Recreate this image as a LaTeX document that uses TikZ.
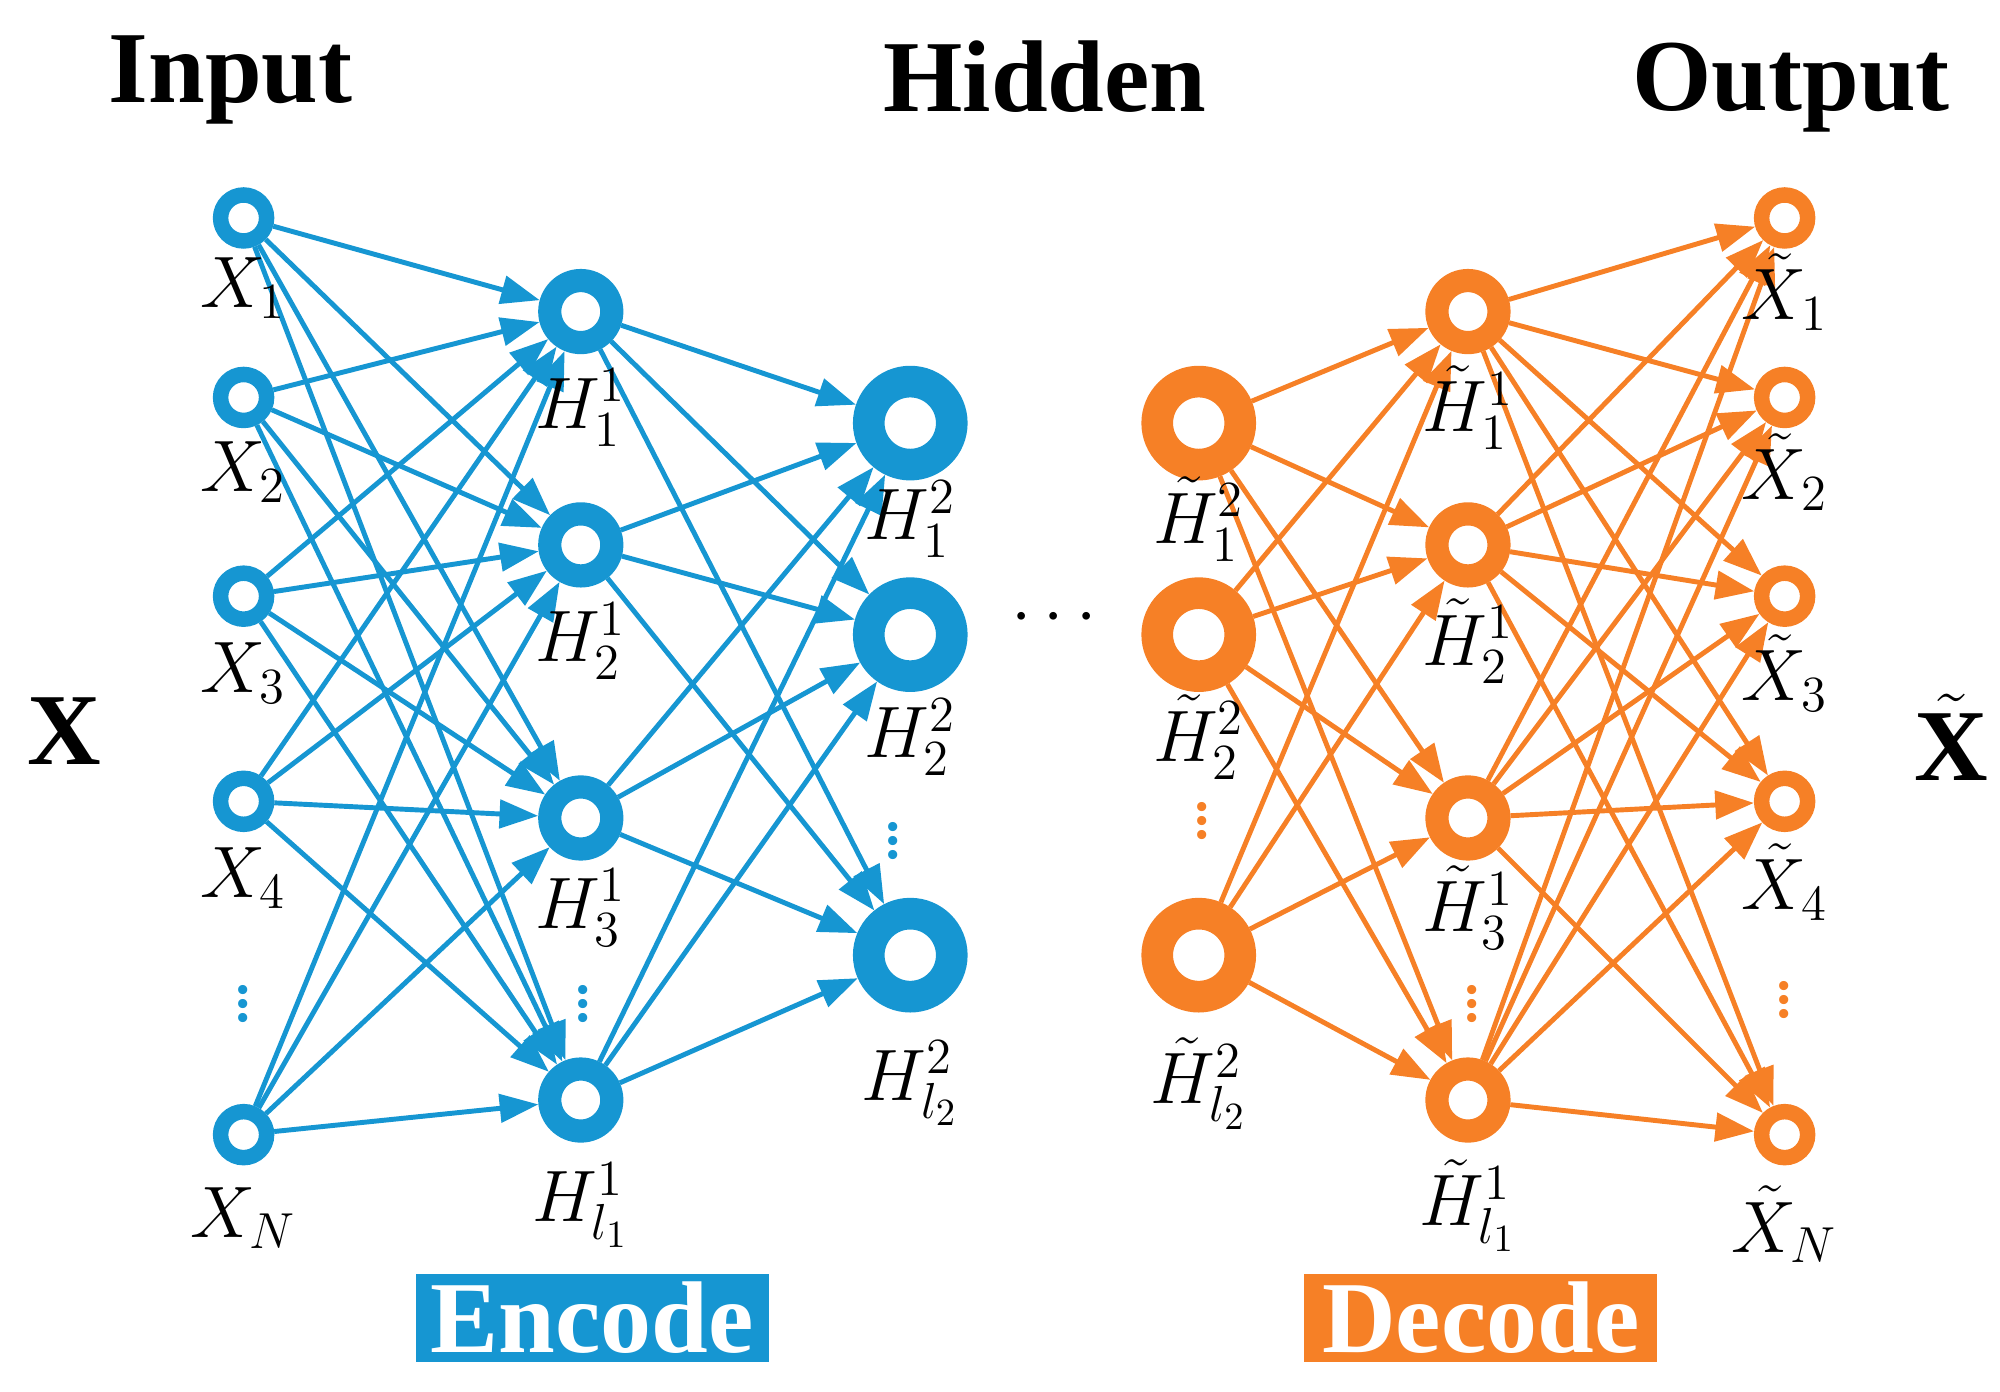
\documentclass[tikz,border=0pt]{standalone}
\usepackage{fontspec}
\setmainfont{Liberation Serif}
\usetikzlibrary{arrows.meta}
\definecolor{bl}{RGB}{22,150,210}
\definecolor{og}{RGB}{246,128,38}
\begin{document}
\begin{tikzpicture}[x=0.01282cm,y=-0.01282cm,
 n1/.style={circle,inner sep=0,minimum size=0.46cm,line width=4.4pt,draw=#1},
 n2/.style={circle,inner sep=0,minimum size=0.62cm,line width=6.6pt,draw=#1},
 n3/.style={circle,inner sep=0,minimum size=0.83cm,line width=9pt,draw=#1},
 e/.style={draw=#1,line width=1.4pt,-{Triangle[length=11pt,width=8pt]}},
 lab/.style={font=\fontsize{22}{24}\selectfont},
 ttl/.style={font=\bfseries\fontsize{29}{31}\selectfont},
 dots/.style={font=\fontsize{22}{24}\selectfont,text=#1}]
\useasboundingbox (0,0) rectangle (1560,1085);
% nodes
\foreach \y [count=\i] in {170,310,465,625,885} {
 \node[n1=bl] (i\i) at (190,\y) {};
 \node[n1=og] (o\i) at (1392,\y) {};}
\foreach \y [count=\i] in {243,425,638,858} {
 \node[n2=bl] (a\i) at (453,\y) {};
 \node[n2=og] (d\i) at (1145,\y) {};}
\foreach \y [count=\i] in {330,495,745} {
 \node[n3=bl] (b\i) at (710,\y) {};
 \node[n3=og] (c\i) at (935,\y) {};}
% edges
\foreach \i in {1,...,5} \foreach \j in {1,...,4} {
 \draw[e=bl] (i\i) -- (a\j);
 \draw[e=og] (d\j) -- (o\i);}
\foreach \i in {1,...,4} \foreach \j in {1,...,3} {
 \draw[e=bl] (a\i) -- (b\j);
 \draw[e=og] (c\j) -- (d\i);}
% labels
\foreach \s/\y in {1/225,2/368,3/525,4/685} \node[lab] (lx\s) at (190,\y) {$X_{\s}$};
\node[lab] (lxn) at (190,950) {$X_{N}$};
\foreach \s/\y in {1/228,2/368,3/525,4/688} \node[lab] (ly\s) at (1392,\y) {$\tilde{X}_{\s}$};
\node[lab] (lyn) at (1392,955) {$\tilde{X}_{N}$};
\foreach \s/\y in {1/318,2/500,3/708} {
 \node[lab] (la\s) at (453,\y) {$H^{1}_{\s}$};
 \node[lab] (ld\s) at (1145,\y) {$\tilde{H}^{1}_{\s}$};}
\node[lab] (la4) at (453,940) {$H^{1}_{l_1}$};
\node[lab] (ld4) at (1145,940) {$\tilde{H}^{1}_{l_1}$};
\foreach \s/\y in {1/405,2/575} {
 \node[lab] (lb\s) at (710,\y) {$H^{2}_{\s}$};
 \node[lab] (lc\s) at (935,\y) {$\tilde{H}^{2}_{\s}$};}
\node[lab] (lb3) at (710,845) {$H^{2}_{l_2}$};
\node[lab] (lc3) at (935,845) {$\tilde{H}^{2}_{l_2}$};
% dots
\node[dots=bl] (v1) at (190,775) {$\vdots$};
\node[dots=bl] (v2) at (455,775) {$\vdots$};
\node[dots=bl] (v3) at (697,648) {$\vdots$};
\node[dots=og] (v4) at (938,632) {$\vdots$};
\node[dots=og] (v5) at (1148,775) {$\vdots$};
\node[dots=og] (v6) at (1392,772) {$\vdots$};
\node[dots=black] (hd) at (822,482) {$\cdots$};
% titles
\node[ttl] (t1) at (180,62) {Input};
\node[ttl] (t2) at (815,60) {Hidden};
\node[ttl] (t3) at (1397,68) {Output};
\node[ttl] (bx) at (50,570) {$\mathbf{X}$};
\node[ttl] (by) at (1522,575) {$\tilde{\mathbf{X}}$};
\node[fill=bl,text=white,ttl,minimum width=3.53cm,minimum height=0.88cm,inner sep=0] (enc) at (462,1028) {Encode};
\node[fill=og,text=white,ttl,minimum width=3.53cm,minimum height=0.88cm,inner sep=0] (dec) at (1155,1028) {Decode};
\end{tikzpicture}
\end{document}
